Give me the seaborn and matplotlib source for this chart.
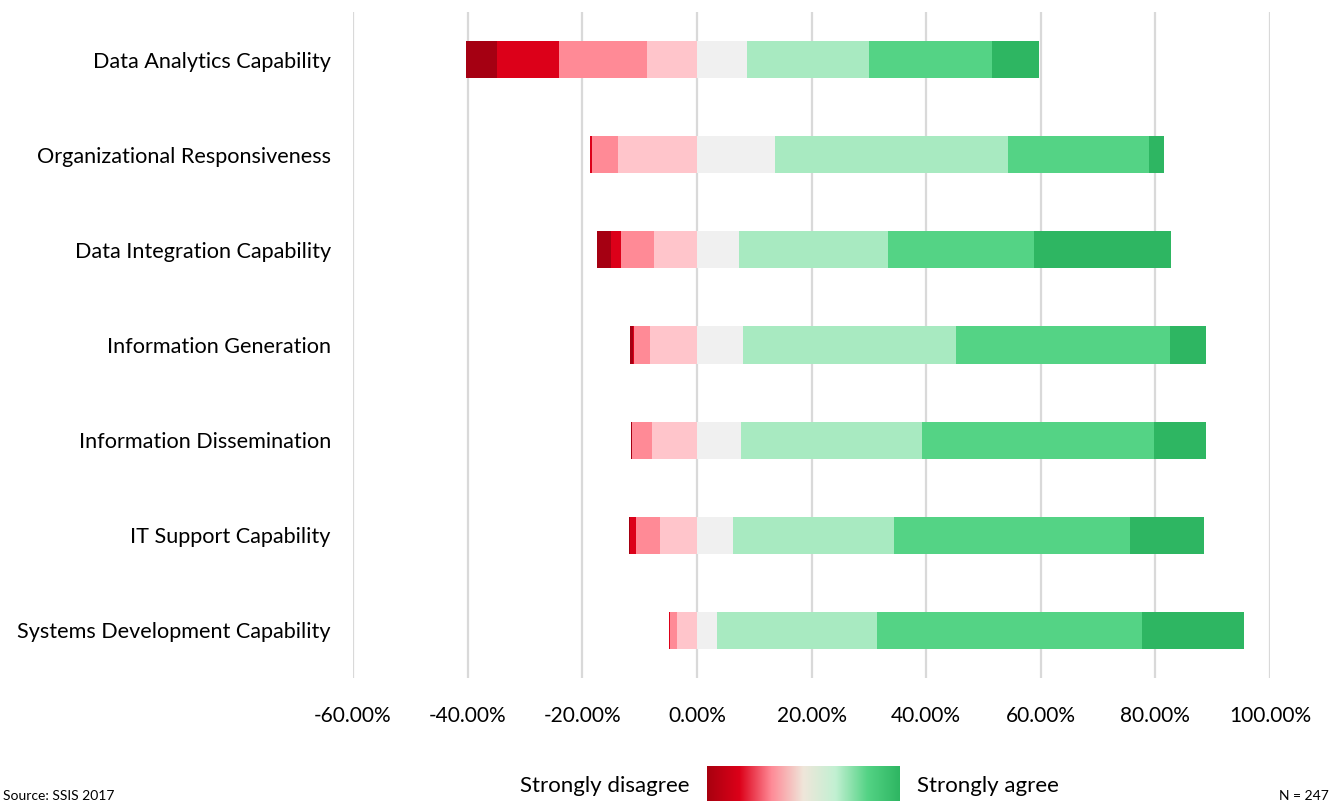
import numpy as np
import pandas as pd
import matplotlib
matplotlib.use("Agg")
import matplotlib.pyplot as plt
from matplotlib.colors import LinearSegmentedColormap
from matplotlib.ticker import FuncFormatter
import seaborn as sns

categories = [
    "Data Analytics Capability",
    "Organizational Responsiveness",
    "Data Integration Capability",
    "Information Generation",
    "Information Dissemination",
    "IT Support Capability",
    "Systems Development Capability",
]
# percentages per response level
strongly_disagree = [5.3, 0.0, 2.5, 0.4, 0.3, 0.3, 0.0]
disagree = [10.8, 0.4, 1.7, 0.3, 0.0, 1.05, 0.3]
somewhat_disagree = [15.4, 4.6, 5.9, 2.8, 3.5, 4.2, 1.1]
neutral = [17.4, 27.4, 14.8, 16.2, 15.5, 12.7, 7.1]
somewhat_agree = [21.4, 40.6, 25.9, 37.1, 31.6, 28.1, 27.8]
agree = [21.4, 24.6, 25.6, 37.4, 40.4, 41.1, 46.4]
strongly_agree = [8.2, 2.6, 23.8, 6.2, 9.1, 12.9, 17.8]

tick_values = [-60, -40, -20, 0, 20, 40, 60, 80, 100]

col_sd = "#A50012"
col_d = "#DC0019"
col_swd = "#FF8A96"
col_nl = "#FFC5CB"
col_nr = "#F0F0F0"
col_swa = "#A8EAC1"
col_a = "#54D385"
col_sa = "#2EB662"

sns.set_theme(style="white")
plt.rcParams["font.family"] = ["Lato", "DejaVu Sans"]

fig = plt.figure(figsize=(13.31, 8.01), dpi=100)
ax = fig.add_axes([353 / 1331, 1 - 678 / 801, (1270 - 353) / 1331, (678 - 12) / 801])

sd = np.array(strongly_disagree)
d = np.array(disagree)
swd = np.array(somewhat_disagree)
n = np.array(neutral)
swa = np.array(somewhat_agree)
a = np.array(agree)
sa = np.array(strongly_agree)

half = n / 2.0
pos_layers = [
    (half + swa + a + sa, col_sa),
    (half + swa + a, col_a),
    (half + swa, col_swa),
    (half, col_nr),
]
neg_layers = [
    (-(half + swd + d + sd), col_sd),
    (-(half + swd + d), col_d),
    (-(half + swd), col_swd),
    (-half, col_nl),
]

for vals, c in pos_layers + neg_layers:
    df = pd.DataFrame({"cat": categories, "val": vals})
    sns.barplot(data=df, x="val", y="cat", orient="h", color=c, saturation=1,
                width=0.39, linewidth=0, ax=ax, zorder=3)

ax.set_xlim(-60, 100)
ax.set_ylim(6.5, -0.5)
ax.set_xticks(tick_values)
ax.xaxis.set_major_formatter(FuncFormatter(lambda v, p: f"{v:.2f}%"))
ax.grid(axis="x", color="#D9D9D9", linewidth=1.6, zorder=0)
ax.grid(axis="y", visible=False)
ax.set_axisbelow(True)
for s in ax.spines.values():
    s.set_visible(False)
ax.set_xlabel("")
ax.set_ylabel("")
ax.tick_params(axis="x", labelsize=15, colors="#000000", pad=20, length=0)
ax.tick_params(axis="y", labelsize=15.6, colors="#000000", pad=16, length=0)

# gradient legend
cmap = LinearSegmentedColormap.from_list(
    "likert",
    ["#A8000F", "#DC0019", "#FF8A96", "#EFE6DA", "#C2F0D2", "#54D385", "#2EB662"],
)
gax = fig.add_axes([707 / 1331, -0.01, 193 / 1331, (801 - 766) / 801 + 0.01])
gax.imshow(np.linspace(0, 1, 256)[None, :], aspect="auto", cmap=cmap)
gax.set_axis_off()

fig.text(690 / 1331, 1 - 786 / 801, "Strongly disagree", ha="right", va="center",
         fontsize=16, color="#000000")
fig.text(917 / 1331, 1 - 786 / 801, "Strongly agree", ha="left", va="center",
         fontsize=16, color="#000000")
fig.text(3 / 1331, 1 - 796 / 801, "Source: SSIS 2017", ha="left", va="center",
         fontsize=10, color="#000000")
fig.text(1329 / 1331, 1 - 796 / 801, "N = 247", ha="right", va="center",
         fontsize=10, color="#000000")

fig.savefig("out.png", dpi=100)
